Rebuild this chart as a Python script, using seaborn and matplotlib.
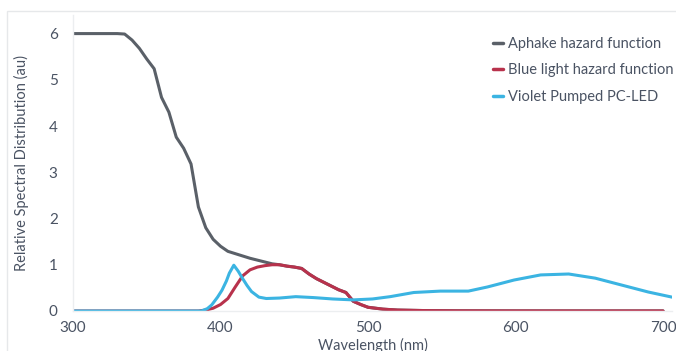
import numpy as np
import pandas as pd
import seaborn as sns
import matplotlib.pyplot as plt
from matplotlib.patches import Rectangle

# Aphake hazard function
aphake_nm = [300, 310, 320, 330, 335, 340, 345, 350, 355, 360, 365, 370, 375, 380,
             385, 390, 395, 400, 405, 410, 415, 420, 425, 430, 435, 440, 445, 450,
             455, 460, 465, 470, 475, 480, 485, 490, 495, 500, 510, 520, 540, 560,
             600, 650, 700]
aphake_val = [6.0, 6.0, 6.0, 6.0, 5.99, 5.86, 5.68, 5.45, 5.24, 4.62, 4.30, 3.76, 3.52, 3.18,
              2.25, 1.80, 1.55, 1.40, 1.29, 1.24, 1.19, 1.14, 1.10, 1.06, 1.02, 1.0, 0.97, 0.95,
              0.92, 0.80, 0.70, 0.62, 0.54, 0.46, 0.40, 0.21, 0.14, 0.08, 0.04, 0.02, 0.008, 0.004,
              0.002, 0.001, 0.001]

# Blue light hazard function
blue_nm = [300, 350, 385, 390, 395, 400, 405, 410, 415, 420, 425, 430, 435, 440, 445,
           450, 455, 460, 465, 470, 475, 480, 485, 490, 495, 500, 510, 520, 540, 560,
           600, 650, 700]
blue_val = [0.0, 0.0, 0.0, 0.02, 0.06, 0.14, 0.27, 0.52, 0.76, 0.89, 0.95, 0.98, 1.0, 1.0, 0.97,
            0.95, 0.92, 0.80, 0.70, 0.62, 0.54, 0.46, 0.40, 0.21, 0.14, 0.08, 0.04, 0.02, 0.008, 0.004,
            0.002, 0.001, 0.001]

# Violet pumped PC-LED spectrum
led_nm = [300, 350, 387, 391, 394, 398, 401, 404, 406, 409, 412, 415, 418, 421, 426, 431,
          440, 451, 463, 476, 490, 503, 515, 531, 549, 568, 581, 599, 617, 636, 654,
          672, 690, 706]
led_val = [0.0, 0.0, 0.0, 0.05, 0.13, 0.30, 0.45, 0.65, 0.82, 0.99, 0.86, 0.70, 0.55, 0.42, 0.30, 0.27,
           0.28, 0.31, 0.29, 0.26, 0.24, 0.26, 0.31, 0.40, 0.43, 0.43, 0.52, 0.67, 0.78, 0.80, 0.71,
           0.56, 0.41, 0.30]

names = ["Aphake hazard function", "Blue light hazard function", "Violet Pumped PC-LED"]
colors = ["#5a6068", "#b8324c", "#3bb4e2"]

df = pd.concat([
    pd.DataFrame({"Wavelength": aphake_nm, "Value": aphake_val, "Series": names[0]}),
    pd.DataFrame({"Wavelength": blue_nm, "Value": blue_val, "Series": names[1]}),
    pd.DataFrame({"Wavelength": led_nm, "Value": led_val, "Series": names[2]}),
])

sns.set_theme(style="white")
plt.rcParams['font.family'] = ['Lato', 'DejaVu Sans']
text_color = "#4a5363"

fig = plt.figure(figsize=(6.76, 3.51), dpi=100)
ax = fig.add_axes([0.108, 0.114, 0.886, 0.843])

# white card border
fig.add_artist(Rectangle((7 / 676, -0.1), 1.0, 1 - 11 / 351 + 0.1, transform=fig.transFigure,
                         fill=False, edgecolor="#e6e8ea", linewidth=1.0))

sns.lineplot(data=df, x="Wavelength", y="Value", hue="Series", hue_order=names,
             palette=colors, linewidth=2.2, sort=False, ax=ax)

ax.set_xlim(300, 706)
ax.set_ylim(0, 6.4)
ax.set_xticks([300, 400, 500, 600, 700])
ax.set_yticks([0, 1, 2, 3, 4, 5, 6])
ax.tick_params(axis="both", length=0, labelsize=11, colors=text_color)
ax.tick_params(axis="y", pad=11)
ax.tick_params(axis="x", pad=7)
ax.set_xlabel("Wavelength (nm)", fontsize=10.5, color=text_color, labelpad=2)
ax.set_ylabel("Relative Spectral Distribution (au)", fontsize=10.5, color=text_color, labelpad=14)

for side in ["top", "right"]:
    ax.spines[side].set_visible(False)
for side in ["left", "bottom"]:
    ax.spines[side].set_color("#eceef0")
    ax.spines[side].set_linewidth(1.0)

leg = ax.legend(loc="upper right", bbox_to_anchor=(1.025, 0.97), frameon=False, fontsize=10.5,
                handlelength=0.7, handletextpad=0.35, labelspacing=0.85, labelcolor=text_color)
for line in leg.get_lines():
    line.set_linewidth(2.5)

fig.savefig("out.png", dpi=100)
